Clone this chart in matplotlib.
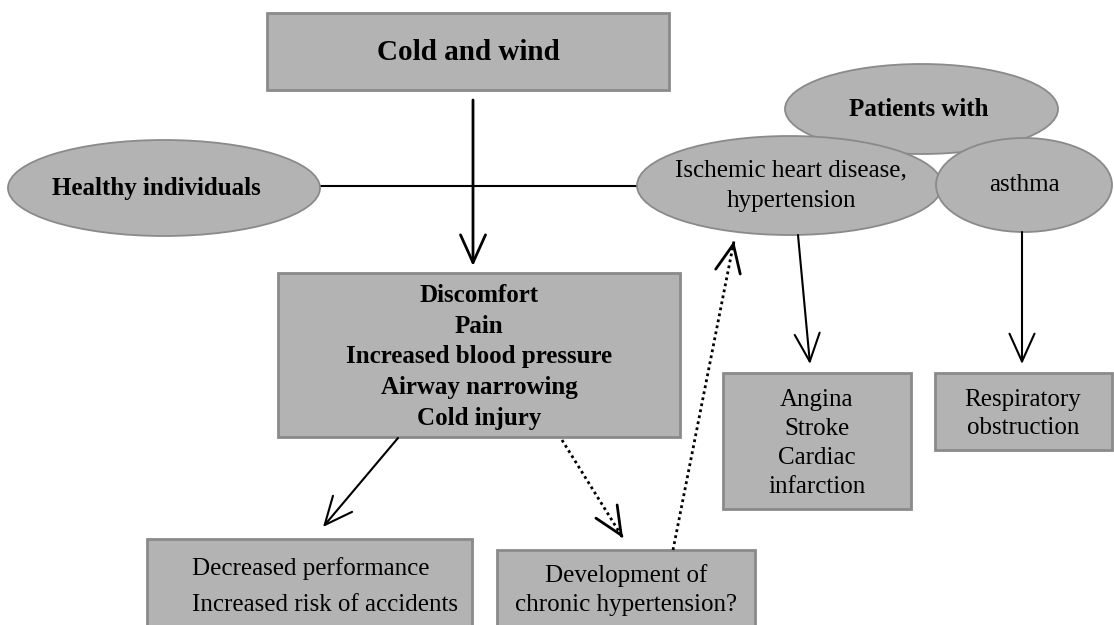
import matplotlib
matplotlib.use("Agg")
import matplotlib.pyplot as plt
from matplotlib.patches import Rectangle, Ellipse

# ---- text content ----
top_label = "Cold and wind"
healthy_label = "Healthy individuals"
patients_label = "Patients with"
ischemic_lines = ["Ischemic heart disease,", "hypertension"]
asthma_label = "asthma"
effects_lines = ["Discomfort", "Pain", "Increased blood pressure", "Airway narrowing", "Cold injury"]
decreased_lines = ["Decreased performance", "Increased risk of accidents"]
development_lines = ["Development of", "chronic hypertension?"]
angina_lines = ["Angina", "Stroke", "Cardiac", "infarction"]
resp_lines = ["Respiratory", "obstruction"]

W, H = 1114, 625
FILL = "#b3b3b3"
EDGE = "#8a8a8a"
SERIF = ["Liberation Serif", "DejaVu Serif"]
FS = 18

fig = plt.figure(figsize=(W / 100, H / 100), dpi=100)
ax = fig.add_axes([0, 0, 1, 1])
ax.set_xlim(0, W)
ax.set_ylim(H, 0)
ax.axis("off")


def box(x0, y0, x1, y1):
    ax.add_patch(Rectangle((x0, y0), x1 - x0, y1 - y0, facecolor=FILL,
                           edgecolor=EDGE, lw=2, zorder=2))


def ell(x0, y0, x1, y1):
    ax.add_patch(Ellipse(((x0 + x1) / 2, (y0 + y1) / 2), x1 - x0, y1 - y0,
                         facecolor=FILL, edgecolor=EDGE, lw=1.3, zorder=2))


def txt(x, y, s, size=FS, bold=False, ha="center"):
    ax.text(x, y, s, ha=ha, va="center", fontsize=size, family=SERIF,
            fontweight="bold" if bold else "normal", zorder=5)


def arrow(x0, y0, x1, y1, lw=1.5):
    ax.annotate("", xy=(x1, y1), xytext=(x0, y0),
                arrowprops=dict(arrowstyle="->,head_length=1.0,head_width=0.45",
                                mutation_scale=20, lw=lw, color="black",
                                shrinkA=0, shrinkB=0), zorder=4)


def dotted_arrow(x0, y0, x1, y1):
    ax.plot([x0, x1], [y0, y1], ls=(0, (1, 1.2)), lw=2, color="black", zorder=4)
    fx = x1 - (x1 - x0) * 0.02
    fy = y1 - (y1 - y0) * 0.02
    arrow(fx, fy, x1, y1, lw=2)


# connector lines
ax.plot([320, 637], [186, 186], color="black", lw=1.5, zorder=1)
arrow(473, 100, 473, 266, lw=2)

# top box
box(267, 13, 669, 90)
txt(468, 52, top_label, size=21, bold=True)

# ellipses
ell(8, 140, 320, 236)
txt(156, 189, healthy_label, bold=True)
ell(785, 64, 1058, 154)
txt(919, 110, patients_label, bold=True)
ell(637, 136, 942, 235)
txt(791, 170, ischemic_lines[0])
txt(791, 201, ischemic_lines[1])
ell(936, 138, 1112, 232)
txt(1024, 185, asthma_label)

# effects box
box(278, 273, 680, 437)
for i, s in enumerate(effects_lines):
    txt(479, 296 + i * 30.5, s, bold=True)

# bottom boxes
box(147, 539, 472, 640)
for i, s in enumerate(decreased_lines):
    txt(192, 569 + i * 36, s, ha="left")
box(497, 550, 755, 640)
for i, s in enumerate(development_lines):
    txt(626, 576 + i * 29, s)

# right boxes
box(723, 373, 911, 509)
for i, s in enumerate(angina_lines):
    txt(817, 400 + i * 29, s)
box(935, 373, 1112, 450)
for i, s in enumerate(resp_lines):
    txt(1023, 400 + i * 28, s)

# arrows
arrow(398, 438, 323, 527)
dotted_arrow(562, 440, 623, 538)
dotted_arrow(673, 550, 734, 241)
arrow(798, 235, 810, 364)
arrow(1022, 232, 1022, 364)

fig.savefig("out.png", dpi=100)
